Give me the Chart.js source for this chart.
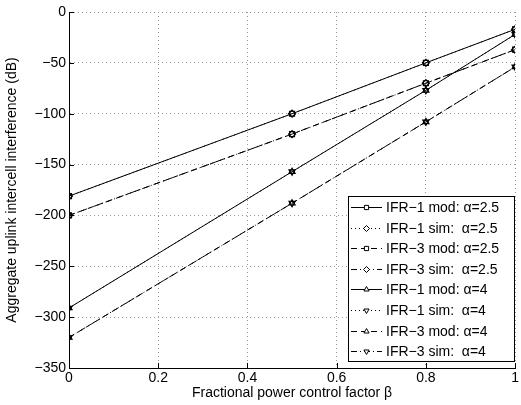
<!DOCTYPE html>
<html>
<head>
<meta charset="utf-8">
<script src="https://cdn.jsdelivr.net/npm/chart.js@4.4.1/dist/chart.umd.min.js"></script>
<style>
  html, body { margin: 0; padding: 0; background: #fff; }
  #wrap { width: 521px; height: 405px; }
</style>
</head>
<body>
<div id="wrap"><canvas id="chart" width="521" height="405"></canvas></div>
<script>
// fractional power control factor beta
const betas = [0, 0.5, 0.8, 1];

// aggregate interference in dB
const ifr1Mod25 = [-181, -100, -50, -17];
const ifr1Sim25 = [-181, -100, -50, -17];
const ifr3Mod25 = [-200, -120, -70, -37];
const ifr3Sim25 = [-200, -120, -70, -37];
const ifr1Mod4 = [-291, -157, -77, -22];
const ifr1Sim4 = [-291, -157, -77, -22];
const ifr3Mod4 = [-320, -188, -108, -54];
const ifr3Sim4 = [-320, -188, -108, -54];

const seriesLabels = [
  "IFR\u22121 mod: \u03b1=2.5",
  "IFR\u22121 sim:  \u03b1=2.5",
  "IFR\u22123 mod: \u03b1=2.5",
  "IFR\u22123 sim:  \u03b1=2.5",
  "IFR\u22121 mod: \u03b1=4",
  "IFR\u22121 sim:  \u03b1=4",
  "IFR\u22123 mod: \u03b1=4",
  "IFR\u22123 sim:  \u03b1=4"
];

const FONT = "Liberation Sans, Arial, Helvetica, sans-serif";
const SOLID = [], DOTTED = [1, 3], DASHED = [6, 4], DASHDOT = [6, 3, 1, 3];

function mk(label, vals, dash, style, rot) {
  return {
    label: label,
    data: vals.map((v, i) => ({ x: betas[i], y: v })),
    borderColor: "#000",
    borderWidth: 1,
    borderDash: dash,
    pointStyle: style,
    rotation: rot || 0,
    pointRadius: 3.5,
    pointBorderWidth: 1.2,
    pointBackgroundColor: "rgba(0,0,0,0)",
    pointBorderColor: "#000",
    fill: false,
    tension: 0
  };
}

const datasets = [
  mk(seriesLabels[0], ifr1Mod25, SOLID, "rect"),
  mk(seriesLabels[1], ifr1Sim25, DOTTED, "rectRot"),
  mk(seriesLabels[2], ifr3Mod25, DASHED, "rect"),
  mk(seriesLabels[3], ifr3Sim25, DASHDOT, "rectRot"),
  mk(seriesLabels[4], ifr1Mod4, SOLID, "triangle"),
  mk(seriesLabels[5], ifr1Sim4, DOTTED, "triangle", 180),
  mk(seriesLabels[6], ifr3Mod4, DASHED, "triangle"),
  mk(seriesLabels[7], ifr3Sim4, DASHDOT, "triangle", 180)
];

// inward ticks + legend box inside the plot
const matlabBits = {
  id: "matlabBits",
  afterDraw(chart) {
    const ctx = chart.ctx;
    const xs = chart.scales.x, ys = chart.scales.y;
    const a = chart.chartArea;
    ctx.save();
    ctx.strokeStyle = "#000";
    ctx.lineWidth = 1;
    ctx.setLineDash([]);
    ctx.beginPath();
    ys.ticks.forEach(t => {
      const y = Math.round(ys.getPixelForValue(t.value)) + 0.5;
      ctx.moveTo(a.left, y); ctx.lineTo(a.left + 5, y);
    });
    xs.ticks.forEach(t => {
      const x = Math.round(xs.getPixelForValue(t.value)) + 0.5;
      ctx.moveTo(x, a.bottom); ctx.lineTo(x, a.bottom - 5);
    });
    ctx.stroke();

    // legend
    const bx = 348.5, by = 196.5, bw = 166, bh = 165;
    ctx.fillStyle = "#fff";
    ctx.fillRect(bx, by, bw, bh);
    ctx.strokeRect(bx, by, bw, bh);
    const rowH = 20.6;
    ctx.font = "14px " + FONT;
    ctx.textBaseline = "middle";
    chart.data.datasets.forEach((ds, i) => {
      const cy = Math.round(by + 10.5 + i * rowH) + 0.5;
      ctx.setLineDash(ds.borderDash);
      ctx.beginPath();
      ctx.moveTo(351, cy); ctx.lineTo(382, cy);
      ctx.stroke();
      ctx.setLineDash([]);
      ctx.fillStyle = "#fff";
      Chart.helpers.drawPoint(ctx, {
        pointStyle: ds.pointStyle, rotation: ds.rotation, radius: 3,
        borderWidth: 1
      }, 366.5, cy);
      ctx.fillStyle = "#000";
      ctx.fillText(ds.label, 386, cy + 1);
    });
    ctx.restore();
  }
};

const tickFont = { family: FONT, size: 14 };

new Chart(document.getElementById("chart"), {
  type: "line",
  data: { datasets: datasets },
  options: {
    responsive: false,
    animation: false,
    layout: { padding: { top: 12, right: 4, left: 0, bottom: 0 } },
    plugins: { legend: { display: false }, tooltip: { enabled: false } },
    scales: {
      x: {
        type: "linear",
        min: 0, max: 1,
        ticks: {
          stepSize: 0.2, color: "#000", font: tickFont, padding: 2,
          maxRotation: 0,
          callback: v => String(Math.round(v * 10) / 10)
        },
        grid: { color: "#999", drawTicks: false, lineWidth: 1 },
        border: { display: true, color: "#000", width: 1, dash: [1, 3] },
        title: {
          display: true, text: "Fractional power control factor \u03b2",
          color: "#000", font: tickFont, padding: { top: -2, bottom: 3 }
        },
        afterFit(s) { s.height = 37; }
      },
      y: {
        min: -350, max: 0,
        ticks: {
          stepSize: 50, color: "#000", font: tickFont, padding: 3,
          callback: v => String(v).replace("-", "\u2212")
        },
        grid: { color: "#999", drawTicks: false, lineWidth: 1 },
        border: { display: true, color: "#000", width: 1, dash: [1, 3] },
        title: {
          display: true, text: "Aggregate uplink intercell interference (dB)",
          color: "#000", font: tickFont, padding: { top: 4, bottom: 2 }
        },
        afterFit(s) { s.width = 69; }
      }
    }
  },
  plugins: [matlabBits]
});
</script>
</body>
</html>
